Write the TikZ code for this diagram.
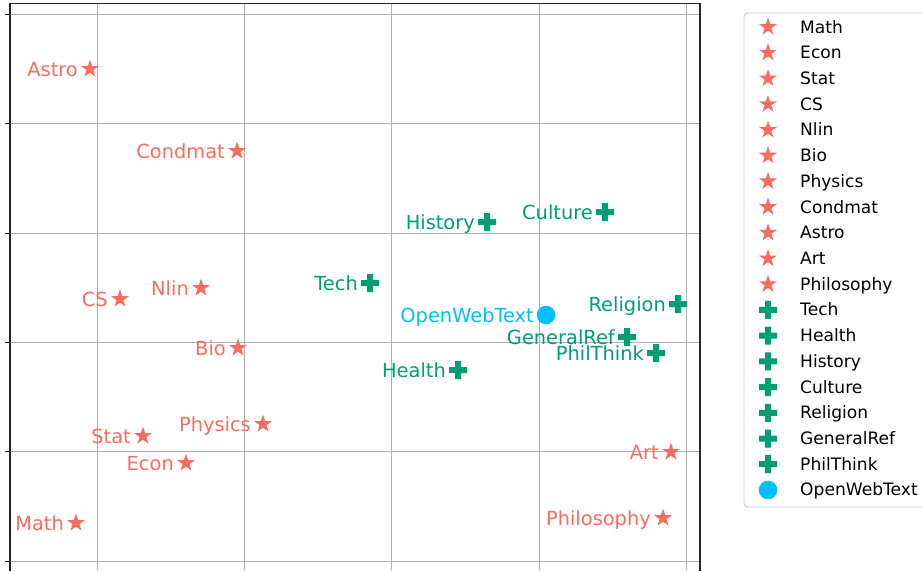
\documentclass[tikz,border=0pt]{standalone}
\usepackage{fontspec}
\setmainfont{DejaVu Sans}
\usetikzlibrary{shapes.geometric}
\definecolor{salm}{RGB}{250,108,95}
\definecolor{grn}{RGB}{0,158,115}
\definecolor{owtblue}{RGB}{0,191,255}
\definecolor{gridc}{RGB}{176,176,176}
\definecolor{legc}{RGB}{204,204,204}
\tikzset{
  starmark/.style={star, star points=5, star point ratio=2.618, fill=salm, draw=none, inner sep=0pt, minimum size=18.8pt},
  circmark/.style={circle, fill=owtblue, draw=none, inner sep=0pt, minimum size=18.6pt},
  plusmark/.style={inner sep=0pt, minimum size=18pt, draw=none,
    path picture={\fill[grn] ([shift={(-3pt,-9pt)}]path picture bounding box.center) -- ++(6pt,0) -- ++(0,6pt) -- ++(6pt,0) -- ++(0,6pt) -- ++(-6pt,0) -- ++(0,6pt) -- ++(-6pt,0) -- ++(0,-6pt) -- ++(-6pt,0) -- ++(0,-6pt) -- ++(6pt,0) -- cycle;}},
  plabel/.style={anchor=base east, inner sep=0pt, font=\fontsize{19.4}{23}\selectfont},
  leglabel/.style={anchor=base west, inner sep=0pt, font=\fontsize{17.1}{20}\selectfont, text=black},
  gridline/.style={draw=gridc, line width=0.9pt},
  spine/.style={draw=black!85, line width=1.1pt},
}
\newcommand{\starpt}[3]{%
  \node[starmark] (m#1) at (#2,#3) {};
  \node[plabel, text=salm] (l#1) at (#2-12,#3+7) {#1};}
\newcommand{\pluspt}[3]{%
  \node[plusmark] (m#1) at (#2,#3) {};
  \node[plabel, text=grn] (l#1) at (#2-12,#3+7) {#1};}
\begin{document}
\begin{tikzpicture}[x=1pt,y=-1pt]
\useasboundingbox (0,0) rectangle (922,571);
% grid
\foreach \gy in {14.3,123.7,233.1,342.5,451.9,561.3} {
  \draw[gridline] (10,\gy) -- (700,\gy);
  \draw[spine] (5,\gy) -- (10,\gy);
}
\foreach \gx in {97.3,244.5,391.8,539,686.3} {
  \draw[gridline] (\gx,3.5) -- (\gx,571);
}
% spines
\draw[spine] (10,571) -- (10,3.5) -- (700,3.5) -- (700,571);
% stars
\starpt{Math}{76}{523}
\starpt{Econ}{186}{463}
\starpt{Stat}{143}{436}
\starpt{CS}{120}{299}
\starpt{Nlin}{201}{288}
\starpt{Bio}{238}{348}
\starpt{Physics}{263}{424}
\starpt{Condmat}{237}{151}
\starpt{Astro}{90}{69}
\starpt{Art}{671}{452}
\starpt{Philosophy}{663}{518}
% plus
\pluspt{Tech}{370}{283}
\pluspt{Health}{458}{370}
\pluspt{History}{487}{222}
\pluspt{Culture}{605}{212}
\pluspt{Religion}{678}{304}
\pluspt{GeneralRef}{627}{337}
\pluspt{PhilThink}{656}{353}
% OpenWebText
\node[circmark] (mOWT) at (546,315) {};
\node[plabel, text=owtblue] (lOWT) at (534,322) {OpenWebText};
% legend
\draw[draw=legc, fill=white, line width=0.9pt, rounded corners=4pt] (744,13) rectangle (950,507);
\foreach \name [count=\i from 0] in {Math,Econ,Stat,CS,Nlin,Bio,Physics,Condmat,Astro,Art,Philosophy} {
  \node[starmark] (ls\i) at (768,27+\i*25.72) {};
  \node[leglabel] (lt\i) at (800,33+\i*25.72) {\name};
}
\foreach \name [count=\i from 11] in {Tech,Health,History,Culture,Religion,GeneralRef,PhilThink} {
  \node[plusmark] (ls\i) at (768,27+\i*25.72) {};
  \node[leglabel] (lt\i) at (800,33+\i*25.72) {\name};
}
\node[circmark] (ls18) at (768,27+18*25.72) {};
\node[leglabel] (lt18) at (800,33+18*25.72) {OpenWebText};
\end{tikzpicture}
\end{document}
